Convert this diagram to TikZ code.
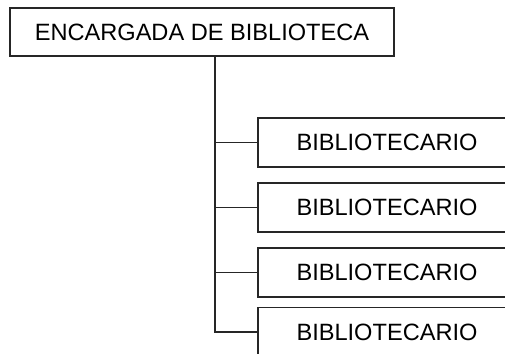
\documentclass[tikz,border=0pt]{standalone}
\usepackage{fontspec}
\setmainfont{Liberation Sans}
\usetikzlibrary{positioning}

\begin{document}
\begin{tikzpicture}[
  x=0.5pt, y=-0.5pt,
  box/.style   = {draw=black!85, line width=0.65pt, inner sep=0pt,
                  align=center, font=\fontsize{11.8}{14}\selectfont},
  boss/.style  = {box, minimum width=192pt, minimum height=24pt},
  staff/.style = {box, minimum width=129pt, minimum height=24.5pt},
  link/.style  = {draw=black!85, line width=0.65pt},
]

%% Canvas (children run off the right edge)
\useasboundingbox (0,0) rectangle (505,354);
\clip (0,0) rectangle (505,354);

%% Nodes
\node[boss]  (head)  at (202, 32)    {ENCARGADA DE BIBLIOTECA};
\node[staff] (lib1)  at (387, 142.5) {BIBLIOTECARIO};
\node[staff] (lib2)  at (387, 207.5) {BIBLIOTECARIO};
\node[staff] (lib3)  at (387, 272.5) {BIBLIOTECARIO};
\node[staff] (lib4)  at (387, 332)   {BIBLIOTECARIO};

%% Trunk position
\coordinate (spine) at (215, 0);

%% Head -> each librarian (elbow from the trunk)
\foreach \n in {lib1, lib2, lib3, lib4}
  \draw[link] (head.south -| spine) |- (\n.west);

\end{tikzpicture}
\end{document}
